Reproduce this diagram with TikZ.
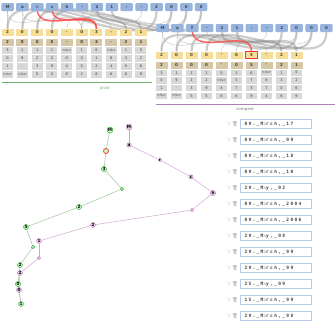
\documentclass[tikz,border=0pt]{standalone}
\usepackage{fontspec}
\setmainfont{DejaVu Sans}
\newfontfamily\emojifont{Noto Emoji}
\newfontfamily\listfont[LetterSpace=30]{DejaVu Sans Mono}
\usepackage{xcolor}
\usepackage{tikz}
\usetikzlibrary{arrows.meta}
\pgfdeclarelayer{bg}
\pgfsetlayers{bg,main}

\definecolor{srcblue}{RGB}{150,180,222}
\definecolor{cellyel}{RGB}{246,222,150}
\definecolor{celltan}{RGB}{214,200,166}
\definecolor{cellgray}{RGB}{216,216,216}
\definecolor{pivgreen}{RGB}{110,175,110}
\definecolor{cmppurple}{RGB}{175,125,185}
\newcommand\msk{\textcolor{black!25}{a}}

\tikzset{
  srcbox/.style={fill=srcblue, rounded corners=1pt, minimum width=12.5pt,
    minimum height=8pt, inner sep=0pt, font=\fontsize{4}{4}\selectfont\bfseries},
  yelcell/.style={fill=cellyel, minimum width=12pt, minimum height=7pt,
    inner sep=0pt, font=\fontsize{4}{4}\selectfont\bfseries},
  tancell/.style={yelcell, fill=celltan},
  graycell/.style={fill=cellgray, minimum width=11pt, minimum height=6.3pt,
    inner sep=0pt, font=\fontsize{3.6}{3.6}\selectfont},
  link/.style={line width=2.2pt, black!50, opacity=.4},
  thinlink/.style={line width=.6pt, black!35, opacity=.5},
  hilink/.style={line width=1.5pt, red!70, opacity=.85},
  gnode/.style={circle, fill=green!25, draw=green!50!black, line width=.3pt,
    inner sep=.3pt, minimum size=3.4pt, text=black,
    font=\fontsize{4.2}{4.2}\selectfont\bfseries},
  pnode/.style={gnode, fill=violet!20, draw=violet!60},
  listbox/.style={draw=srcblue!70, fill=white, line width=.5pt, minimum width=71pt,
    minimum height=9pt, inner sep=0pt, font=\listfont\fontsize{4.5}{4.5}\selectfont\bfseries}
}

\begin{document}
\begin{tikzpicture}[x=1pt, y=-1pt, every node/.style={text=black!75}]
  \useasboundingbox (0,0) rectangle (335,324);

  % source strings
  \foreach \ch [count=\i] in {M,a,r,c,h,\_,2,1,{,},\_,2,0,0,0}
    \node[srcbox] (s\i) at ({7.5+14.9*(\i-1)}, 7) {\ch};
  \foreach \ch [count=\i] in {M,a,y,\_,2,1,{,},\_,2,0,0,0}
    \node[srcbox] (t\i) at ({162.5+14.9*(\i-1)}, 28) {\ch};

  % left table (pivot)
  \foreach \v [count=\i] in {2,0,0,0,-,0,3,-,2,1} {
    \node[yelcell] (ly\i) at ({7.5+14.83*(\i-1)}, 32.5) {\v};
    \node[tancell] (lt\i) at ({7.5+14.83*(\i-1)}, 42.5) {\v};
  }
  \foreach \row [count=\r] in {{3,1,1,1,</s>,1,6,</s>,1,5},{0,9,2,2,0,3,1,8,3,2},
      {1,-,3,9,4,5,2,4,0,6},{</s>,</s>,5,5,8,2,8,6,6,9}}
    \foreach \v [count=\i] in \row
      \node[graycell] (lg\r-\i) at ({7.5+14.83*(\i-1)}, {42.5+8*\r}) {\v};
  \draw[pivgreen, line width=1pt] (2,82) -- (152,82);
  \node[text=pivgreen, font=\fontsize{4}{4}\selectfont] (pivot) at (105,88) {pivot};

  % right table (compare)
  \foreach \v [count=\i] in {2,0,0,0,-,0,5,-,2,1} {
    \node[yelcell] (ry\i) at ({161.5+15*(\i-1)}, 55) {\v};
    \node[tancell] (rt\i) at ({161.5+15*(\i-1)}, 65) {\v};
  }
  \foreach \row [count=\r] in {{3,1,1,1,0,1,6,</s>,1,5},{0,9,2,2,</s>,5,7,8,3,2},
      {1,-,3,9,4,7,3,7,0,6},{</s>,</s>,5,5,6,6,9,4,6,9}}
    \foreach \v [count=\i] in \row
      \node[graycell] (rg\r-\i) at ({161.5+15*(\i-1)}, {65+7.7*\r}) {\v};
  \draw[red!80, line width=.7pt] (ry7.south west) rectangle (ry7.north east);
  \draw[cmppurple, line width=1pt] (156,104) -- (335,104);
  \node[text=black!55, font=\fontsize{4}{4}\selectfont] (compare) at (245,110) {compare};

  % alignment links
  \begin{pgfonlayer}{bg}
    \foreach \a/\b in {11/1,12/2,13/3,14/4,7/9,8/10}
      \draw[link] (s\a.south) to[out=-90, in=90] (ly\b.north);
    \foreach \a/\b in {12/6,13/6,10/5,6/8,1/1,2/2,1/6,2/6,14/3}
      \draw[thinlink] (s\a.south) to[out=-90, in=90] (ly\b.north);
    \foreach \a/\b in {9/1,10/2,11/3,12/4,5/9,6/10}
      \draw[link] (t\a.south) to[out=-90, in=90] (ry\b.north);
    \foreach \a/\b in {10/6,11/6,8/5,4/8,1/1,2/2,1/7,2/7}
      \draw[thinlink] (t\a.south) to[out=-90, in=90] (ry\b.north);
    \draw[hilink] (s3.south) to[out=-80, in=90] (ly7.north);
    \draw[hilink] (s4.south) to[out=-80, in=90] (ly7.north);
    \draw[hilink] (t3.south) to[out=-80, in=90] (ry7.north);
  \end{pgfonlayer}

  % paths
  \foreach \x/\y/\l [count=\i] in {110/130/M,106/151/{},104/169/3,122/189/{},79/207/2,
      26/227/5,33/247/{},20/265/2,18/284/0,21/304/1}
    \node[gnode] (g\i) at (\x,\y) {\l};
  \node[gnode, draw=red!80, line width=.8pt, minimum size=5pt] at (g2) {};
  \foreach \x/\y/\l [count=\i] in {129/127/M,129/145/a,160/160/r,191/177/c,213/193/h,
      192/210/{},93/225/2,39/241/1,39/258/{},20/273/2,19/290/0}
    \node[pnode] (p\i) at (\x,\y) {\l};
  \begin{pgfonlayer}{bg}
    \foreach \i [remember=\i as \j (initially 1)] in {2,...,10}
      \draw[green!45!black!40, line width=.5pt] (g\j) -- (g\i);
    \foreach \i [remember=\i as \j (initially 1)] in {2,...,11}
      \draw[violet!35, line width=.5pt] (p\j) -- (p\i);
    \draw[violet!35, line width=.5pt] (p11) -- (g10);
  \end{pgfonlayer}

  % candidate list
  \foreach \t [count=\i] in {{09.\_M\msk rch,\_17},{09.\_M\msk rch,\_09},{09.\_M\msk rch,\_18},
      {09.\_M\msk rch,\_10},{29.\_M\msk y,\_02},{09.\_M\msk rch,\_2004},{09.\_M\msk rch,\_2006},
      {29.\_M\msk y,\_08},{29.\_M\msk rch,\_99},{29.\_M\msk rch,\_99},{25.\_M\msk y,\_09},
      {15.\_M\msk rch,\_99},{29.\_M\msk rch,\_98}} {
    \node[listbox, text width=62pt, align=left] (c\i) at (275.5, {124+16*(\i-1)}) {\t};
    \node[text=black!35, font=\fontsize{5}{5}\selectfont, inner sep=0pt] (star\i)
      at (229, {124+16*(\i-1)}) {☆};
    \node[text=black!35, font=\emojifont\fontsize{4.5}{4.5}\selectfont, inner sep=0pt]
      (bin\i) at (235, {124+16*(\i-1)}) {🗑};
  }
\end{tikzpicture}
\end{document}
